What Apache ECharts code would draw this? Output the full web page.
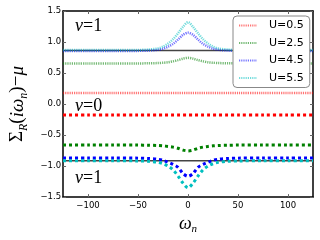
<!DOCTYPE html>
<html><head><meta charset="utf-8">
<script src="https://cdn.jsdelivr.net/npm/echarts@6/dist/echarts.min.js"></script>
<style>html,body{margin:0;padding:0;background:#fff}#c{width:320px;height:240px}</style>
</head><body><div id="c"></div>
<script>
const omega = [-125,-100,-75,-50,-40,-30,-25,-20,-15,-10,-5,0,5,10,15,20,25,30,40,50,75,100,125];
const uLabels = ['U=0.5','U=2.5','U=4.5','U=5.5'];
const redUp   = [0.18,0.18,0.18,0.18,0.18,0.18,0.18,0.18,0.18,0.18,0.18,0.18,0.18,0.18,0.18,0.18,0.18,0.18,0.18,0.18,0.18,0.18,0.18];
const greenUp = [0.655,0.655,0.655,0.655,0.657,0.661,0.666,0.673,0.688,0.708,0.732,0.745,0.732,0.708,0.688,0.673,0.666,0.661,0.657,0.655,0.655,0.655,0.655];
const blueUp  = [0.855,0.855,0.855,0.857,0.862,0.875,0.892,0.925,0.97,1.04,1.115,1.15,1.115,1.04,0.97,0.925,0.892,0.875,0.862,0.857,0.855,0.855,0.855];
const cyanUp  = [0.87,0.87,0.87,0.872,0.878,0.897,0.925,0.975,1.045,1.14,1.245,1.32,1.245,1.14,1.045,0.975,0.925,0.897,0.878,0.872,0.87,0.87,0.87];
const redLow   = [-0.175,-0.175,-0.175,-0.175,-0.175,-0.175,-0.175,-0.175,-0.175,-0.175,-0.175,-0.175,-0.175,-0.175,-0.175,-0.175,-0.175,-0.175,-0.175,-0.175,-0.175,-0.175,-0.175];
const greenLow = [-0.66,-0.66,-0.66,-0.661,-0.664,-0.668,-0.674,-0.683,-0.694,-0.713,-0.742,-0.755,-0.742,-0.713,-0.694,-0.683,-0.674,-0.668,-0.664,-0.661,-0.66,-0.66,-0.66];
const blueLow  = [-0.87,-0.87,-0.87,-0.872,-0.877,-0.89,-0.906,-0.937,-0.972,-1.02,-1.12,-1.165,-1.12,-1.02,-0.972,-0.937,-0.906,-0.89,-0.877,-0.872,-0.87,-0.87,-0.87];
const cyanLow  = [-0.915,-0.915,-0.915,-0.917,-0.923,-0.94,-0.962,-1.0,-1.06,-1.16,-1.275,-1.35,-1.275,-1.16,-1.06,-1.0,-0.962,-0.94,-0.923,-0.917,-0.915,-0.915,-0.915];
const refX = [-125,125];
const refUp = [0.865,0.865];
const refLow = [-0.915,-0.915];
const xTicks = [-100,-50,0,50,100];

const colors = ['#ff0000','#008000','#0000ff','#00bfbf'];
const ups = [redUp,greenUp,blueUp,cyanUp];
const lows = [redLow,greenLow,blueLow,cyanLow];
const pair = (xs,ys)=>xs.map((x,i)=>[x,ys[i]]);
const minus = v => String(v).replace('-','\u2212');

const series = [];
ups.forEach((d,i)=>series.push({
  name: uLabels[i], type:'line', data: pair(omega,d), showSymbol:false, symbol:'none', smooth:0.3,
  lineStyle:{color:colors[i], width:2.5, type:[1.2,1], opacity:0.55}, itemStyle:{color:colors[i], opacity:0}, z:3
}));
lows.forEach((d,i)=>series.push({
  name: 'low'+i, type:'line', data: pair(omega,d), showSymbol:false, symbol:'none', smooth:0.3,
  lineStyle:{color:colors[i], width:3, type:[3,3]}, z:3
}));
series.push({name:'refUp',type:'line',data:pair(refX,refUp),showSymbol:false,symbol:'none',lineStyle:{color:'#444',width:1.5},z:2});
series.push({name:'refLow',type:'line',data:pair(refX,refLow),showSymbol:false,symbol:'none',lineStyle:{color:'#444',width:1.5},z:2});

const tickFont = {fontFamily:'DejaVu Sans', fontSize:8.5, color:'#000'};
const serif = 'Liberation Serif';
const chart = echarts.init(document.getElementById('c'));
chart.setOption({
  animation:false,
  grid:{left:50,right:7,top:11,bottom:37},
  legend:{data:uLabels, orient:'vertical', left:233, top:16, padding:[4,6,4,5],
    backgroundColor:'#fff', borderColor:'#888', borderWidth:1, borderRadius:4,
    itemWidth:18, itemHeight:10, itemGap:6.5,
    itemStyle:{opacity:0, borderWidth:0},
    textStyle:{fontFamily:'DejaVu Sans', fontSize:11, color:'#000', padding:[0,0,0,7]}},
  xAxis:[{type:'value', min:-125, max:125, position:'bottom',
    axisLine:{show:true, onZero:false, lineStyle:{color:'#000',width:1.5}},
    axisTick:{show:true, inside:true, length:3, customValues:xTicks, lineStyle:{color:'#666'}},
    axisLabel:{customValues:xTicks, formatter:v=>minus(v), margin:4, ...tickFont},
    splitLine:{show:false},
    name:'{w|ω}{s|n}', nameLocation:'middle', nameGap:13,
    nameTextStyle:{rich:{w:{fontFamily:serif,fontStyle:'italic',fontSize:18,lineHeight:22,verticalAlign:'middle'},
      s:{fontFamily:serif,fontStyle:'italic',fontSize:11,lineHeight:14,verticalAlign:'bottom'}}}},
   {type:'value', min:-125, max:125, position:'top',
    axisLine:{show:true, onZero:false, lineStyle:{color:'#000',width:1.5}},
    axisTick:{show:true, inside:true, length:3, customValues:xTicks, lineStyle:{color:'#666'}},
    axisLabel:{show:false}, splitLine:{show:false}}],
  yAxis:[{type:'value', min:-1.5, max:1.5, interval:0.5, position:'left',
    axisLine:{show:true, onZero:false, lineStyle:{color:'#000',width:1.5}},
    axisTick:{show:true, inside:true, length:3, lineStyle:{color:'#666'}},
    axisLabel:{formatter:v=>minus(v.toFixed(1)), margin:2, ...tickFont},
    splitLine:{show:false},
    name:'{t|Σ}{s|R}{t|(}{i|iω}{s|n}{t|)−}{i|μ}', nameLocation:'middle', nameGap:24, nameRotate:90,
    nameTextStyle:{rich:{
      t:{fontFamily:serif,fontSize:19,lineHeight:24,verticalAlign:'middle'},
      i:{fontFamily:serif,fontStyle:'italic',fontSize:19,lineHeight:24,verticalAlign:'middle'},
      s:{fontFamily:serif,fontStyle:'italic',fontSize:12,lineHeight:15,verticalAlign:'bottom'}}}},
   {type:'value', min:-1.5, max:1.5, interval:0.5, position:'right',
    axisLine:{show:true, onZero:false, lineStyle:{color:'#000',width:1.5}},
    axisTick:{show:true, inside:true, length:3, lineStyle:{color:'#666'}},
    axisLabel:{show:false}, splitLine:{show:false}}],
  series: series,
  graphic:[
    {type:'text', left:75, top:17, style:{text:'{i|ν}{n|=1}', rich:{i:{fontFamily:serif,fontStyle:'italic',fontSize:18},n:{fontFamily:serif,fontSize:18}}}},
    {type:'text', left:75, top:97, style:{text:'{i|ν}{n|=0}', rich:{i:{fontFamily:serif,fontStyle:'italic',fontSize:18},n:{fontFamily:serif,fontSize:18}}}},
    {type:'text', left:75, top:169, style:{text:'{i|ν}{n|=1}', rich:{i:{fontFamily:serif,fontStyle:'italic',fontSize:18},n:{fontFamily:serif,fontSize:18}}}}
  ]
});
</script></body></html>
